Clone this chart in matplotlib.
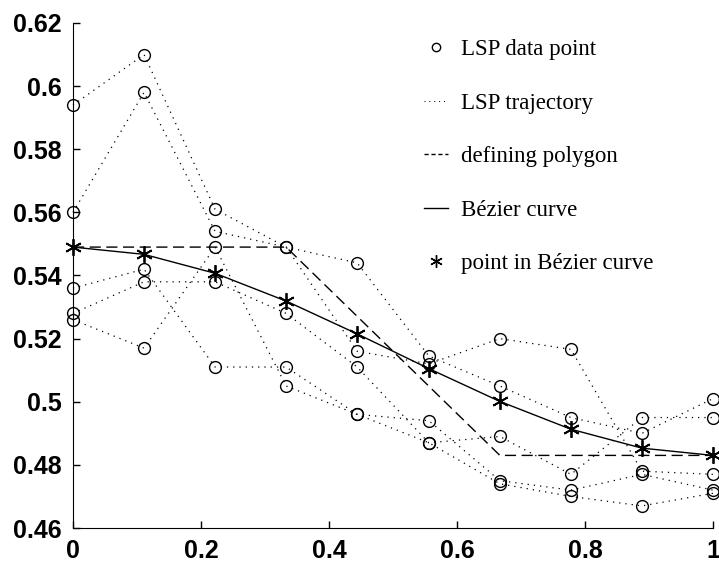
import numpy as np
import matplotlib
matplotlib.use('Agg')
import matplotlib.pyplot as plt
from matplotlib.lines import Line2D

# sample positions along the normalised time axis
x = [0, 0.111, 0.222, 0.333, 0.444, 0.556, 0.667, 0.778, 0.889, 1.0]

# LSP trajectories (5 frames)
lsp1 = [0.594, 0.610, 0.561, 0.549, 0.544, 0.5145, 0.505, 0.495, 0.490, 0.501]
lsp2 = [0.560, 0.598, 0.554, 0.549, 0.516, 0.512, 0.520, 0.5166, 0.478, 0.477]
lsp3 = [0.536, 0.542, 0.511, 0.511, 0.496, 0.494, 0.475, 0.472, 0.477, 0.472]
lsp4 = [0.528, 0.538, 0.538, 0.528, 0.511, 0.487, 0.489, 0.477, 0.495, 0.495]
lsp5 = [0.526, 0.517, 0.549, 0.505, 0.496, 0.487, 0.474, 0.470, 0.467, 0.471]

# control polygon and bezier curve points
poly_x = [0, 0.333, 0.667, 1.0]
poly_y = [0.549, 0.549, 0.483, 0.483]
bez_y = [0.549, 0.5467, 0.5407, 0.5319, 0.5215, 0.5105, 0.5001, 0.4913, 0.4853, 0.483]

xticks = [0, 0.2, 0.4, 0.6, 0.8, 1]
xlabels = ['0', '0.2', '0.4', '0.6', '0.8', '1']
yticks = [0.46, 0.48, 0.5, 0.52, 0.54, 0.56, 0.58, 0.6, 0.62]
ylabels = ['0.46', '0.48', '0.5', '0.52', '0.54', '0.56', '0.58', '0.6', '0.62']

dotted = (0, (1, 4))
dashed = (0, (8, 4))

fig = plt.figure(figsize=(7.19, 5.63), dpi=100)
ax = fig.add_axes([73/719, 35/563, 640/719, 505/563])

for s in [lsp1, lsp2, lsp3, lsp4, lsp5]:
    ax.plot(x, s, color='black', linestyle=dotted, linewidth=0.9,
            marker='o', markersize=8.5, markerfacecolor='none',
            markeredgewidth=1, clip_on=False)

ax.plot(poly_x, poly_y, color='black', linestyle=dashed, linewidth=1, clip_on=False)
ax.plot(x, bez_y, color='black', linestyle='-', linewidth=1, clip_on=False)
ax.plot(x, bez_y, color='black', linestyle='none', marker=(6, 2, 0),
        markersize=12, markeredgewidth=1.3, clip_on=False)

ax.set_xlim(0, 1)
ax.set_ylim(0.46, 0.62)
ax.set_xticks(xticks)
ax.set_xticklabels(xlabels)
ax.set_yticks(yticks)
ax.set_yticklabels(ylabels)
ax.spines['top'].set_visible(False)
ax.spines['right'].set_visible(False)
ax.tick_params(direction='in', length=5, width=1, labelsize=18, pad=8)
for lab in ax.get_xticklabels() + ax.get_yticklabels():
    lab.set_family('Liberation Sans')
    lab.set_weight('bold')

handles = [
    Line2D([], [], color='black', linestyle='none', marker='o', markersize=6,
           markerfacecolor='none', markeredgewidth=1),
    Line2D([], [], color='black', linestyle=dotted, linewidth=0.7),
    Line2D([], [], color='black', linestyle=(0, (3, 2)), linewidth=1),
    Line2D([], [], color='black', linestyle='-', linewidth=1),
    Line2D([], [], color='black', linestyle='none', marker=(6, 2, 0),
           markersize=9, markeredgewidth=1),
]
names = ['LSP data point', 'LSP trajectory', 'defining polygon',
         'Bézier curve', 'point in Bézier curve']
fig.legend(handles, names, loc='upper left', bbox_to_anchor=(424/719, 1 - 39/563),
           frameon=False, prop={'family': 'Liberation Serif', 'size': 16.5},
           handlelength=1.05, handletextpad=0.55, labelspacing=1.42,
           borderpad=0, borderaxespad=0, numpoints=1)

plt.savefig('out.png', dpi=100)
